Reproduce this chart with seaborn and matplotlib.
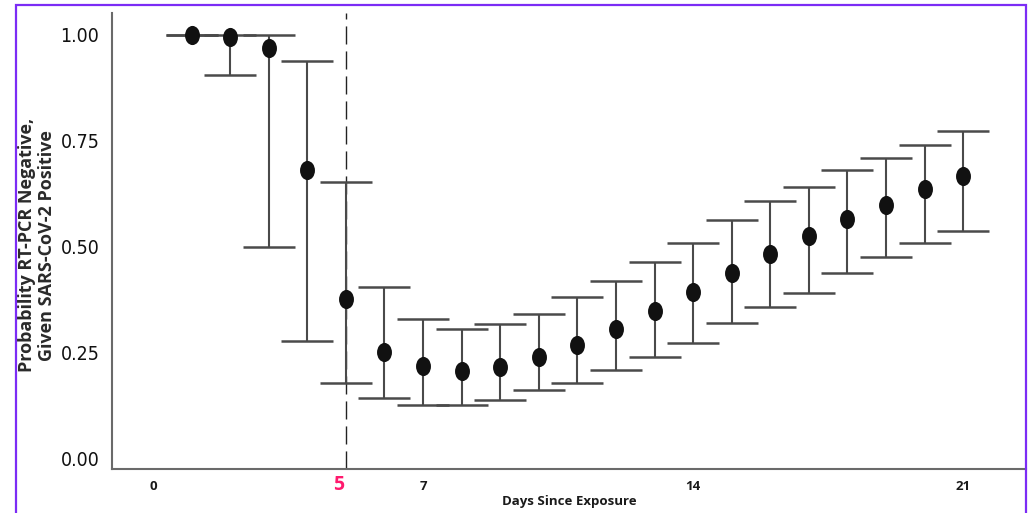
import numpy as np
import pandas as pd
import matplotlib
matplotlib.use("Agg")
import matplotlib.pyplot as plt
from matplotlib.patches import Rectangle
from matplotlib.path import Path
from matplotlib.transforms import Affine2D
import seaborn as sns

days = [1, 2, 3, 4, 5, 6, 7, 8, 9, 10, 11, 12, 13, 14, 15, 16, 17, 18, 19, 20, 21]
prob = [1.00, 0.995, 0.969, 0.681, 0.376, 0.251, 0.217, 0.206, 0.215, 0.239, 0.267,
        0.305, 0.348, 0.392, 0.437, 0.482, 0.525, 0.565, 0.598, 0.636, 0.667]
upper = [1.00, 1.00, 1.00, 0.939, 0.652, 0.404, 0.329, 0.305, 0.317, 0.340, 0.381,
         0.418, 0.463, 0.508, 0.563, 0.608, 0.641, 0.681, 0.709, 0.740, 0.773]
lower = [1.00, 0.905, 0.499, 0.277, 0.177, 0.142, 0.125, 0.125, 0.137, 0.161, 0.177,
         0.208, 0.239, 0.272, 0.319, 0.357, 0.390, 0.437, 0.475, 0.508, 0.537]
xticks = [0, 7, 14, 21]
yticks = [0.00, 0.25, 0.50, 0.75, 1.00]
ytick_labels = ["0.00", "0.25", "0.50", "0.75", "1.00"]
marker_day = 5

df = pd.DataFrame({"day": days, "prob": prob, "upper": upper, "lower": lower})

sns.set_theme(style="white")
plt.rcParams["font.family"] = ["Open Sans", "DejaVu Sans"]

W, H = 1029, 513
fig = plt.figure(figsize=(W / 100, H / 100), dpi=100)
ax = fig.add_axes([112 / W, 1 - 469 / H, (1026 - 112) / W, (469 - 13) / H])

ax.set_xlim(-1.063, 22.63)
ax.set_ylim(-0.026, 1.052)

# dashed reference line
ax.axvline(marker_day, color="#222222", lw=1.0, dashes=(13, 5), zorder=1)

# error bars
yerr = np.vstack([df["prob"] - df["lower"], df["upper"] - df["prob"]])
ax.errorbar(df["day"], df["prob"], yerr=yerr, fmt="none", ecolor="#4a4a4a",
            elinewidth=1.5, capsize=19, capthick=1.8, zorder=2)

# elliptical markers
circ = Path.unit_circle()
ell = Path(Affine2D().scale(0.78, 1.0).transform(circ.vertices), circ.codes)
sns.scatterplot(data=df, x="day", y="prob", ax=ax, marker=ell, s=190,
                color="#111111", edgecolor="#111111", linewidth=0, zorder=3)

# axes styling
for s in ["top", "right"]:
    ax.spines[s].set_visible(False)
for s in ["left", "bottom"]:
    ax.spines[s].set_color("#6a6a6a")
    ax.spines[s].set_linewidth(1.5)

ax.set_yticks(yticks)
ax.set_yticklabels(ytick_labels, family=["DejaVu Sans"], fontstretch="condensed",
                   fontsize=14, color="#111111")
ax.set_xticks(xticks)
ax.set_xticklabels([str(t) for t in xticks], fontsize=9.5, fontweight="bold",
                   color="#1a1a1a")
ax.tick_params(axis="y", direction="out", length=7, width=1.3, color="#555555", pad=2)
ax.tick_params(axis="x", direction="out", length=5, width=1.3, color="#555555", pad=3)

ax.set_xlabel("Days Since Exposure", fontsize=9.5, fontweight="bold",
              color="#1a1a1a", labelpad=1)
ax.set_ylabel("Probability RT-PCR Negative,\nGiven SARS-CoV-2 Positive",
              fontsize=13, fontweight="bold", color="#2a2a2a",
              linespacing=1.1)
ax.yaxis.set_label_coords(-0.0615, 0.491)

# highlighted day label
ax.text(marker_day - 0.18, -0.04, str(marker_day), transform=ax.transData,
        ha="center", va="top", fontsize=14, fontweight="bold", color="#ff1a6e")

ax.grid(False)

# purple frame
fig.patches.append(Rectangle((16 / W, -0.05), (1026 - 16) / W, 1.05 - 5 / H,
                             transform=fig.transFigure, fill=False,
                             edgecolor="#7b2cf5", linewidth=1.6, zorder=10))

fig.savefig("out.png", dpi=100, facecolor="white")
